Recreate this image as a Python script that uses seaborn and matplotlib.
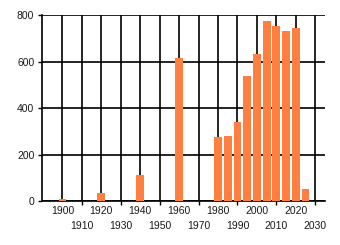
import matplotlib
matplotlib.use("Agg")
import matplotlib.pyplot as plt
import seaborn as sns
import pandas as pd

years = [1900, 1920, 1940, 1960, 1980, 1985, 1990, 1995, 2000, 2005, 2010, 2015, 2020, 2025]
counts = [12, 36, 113, 616, 278, 282, 341, 539, 635, 777, 755, 734, 745, 54]
major_ticks = [1900, 1920, 1940, 1960, 1980, 2000, 2020]
minor_ticks = [1910, 1930, 1950, 1970, 1990, 2010, 2030]
y_ticks = [0, 200, 400, 600, 800]

sns.set_theme(style="white")
plt.rcParams['font.family'] = ['Liberation Sans', 'DejaVu Sans']

df = pd.DataFrame({"year": years, "count": counts})

fig = plt.figure(figsize=(3.4, 2.45), dpi=100)
ax = fig.add_axes([42/340, 1-201.3/245, (325-42)/340, (201.3-15.3)/245])
ax.set_axisbelow(True)

sns.barplot(data=df, x="year", y="count", native_scale=True, width=0.8,
            color="#FF7F40", saturation=1, ax=ax, edgecolor="none", linewidth=0,
            zorder=3)

ax.set_xlim(1889.5, 2035)
ax.set_ylim(0, 800)
ax.set_xlabel("")
ax.set_ylabel("")

ax.set_xticks(major_ticks)
ax.set_xticklabels([str(v) for v in major_ticks])
ax.set_xticks(minor_ticks, minor=True)
ax.set_xticklabels([str(v) for v in minor_ticks], minor=True)
ax.tick_params(axis="x", which="major", length=0, pad=3.5, labelsize=7.5, colors="#1a1a1a")
ax.tick_params(axis="x", which="minor", length=3, width=1, pad=11, labelsize=7.5,
               colors="#1a1a1a", color="black", bottom=True)
ax.set_yticks(y_ticks)
ax.tick_params(axis="y", length=3, width=1, pad=2.5, labelsize=7.5, colors="#1a1a1a",
               color="black", left=True)

ax.grid(True, which="both", axis="x", color="black", linewidth=1.2)
ax.grid(True, which="major", axis="y", color="black", linewidth=1.2)

for s in ["top", "right"]:
    ax.spines[s].set_visible(False)
for s in ["left", "bottom"]:
    ax.spines[s].set_color("black")
    ax.spines[s].set_linewidth(1.2)
    ax.spines[s].set_zorder(2.5)

fig.savefig("out.png", dpi=100)
